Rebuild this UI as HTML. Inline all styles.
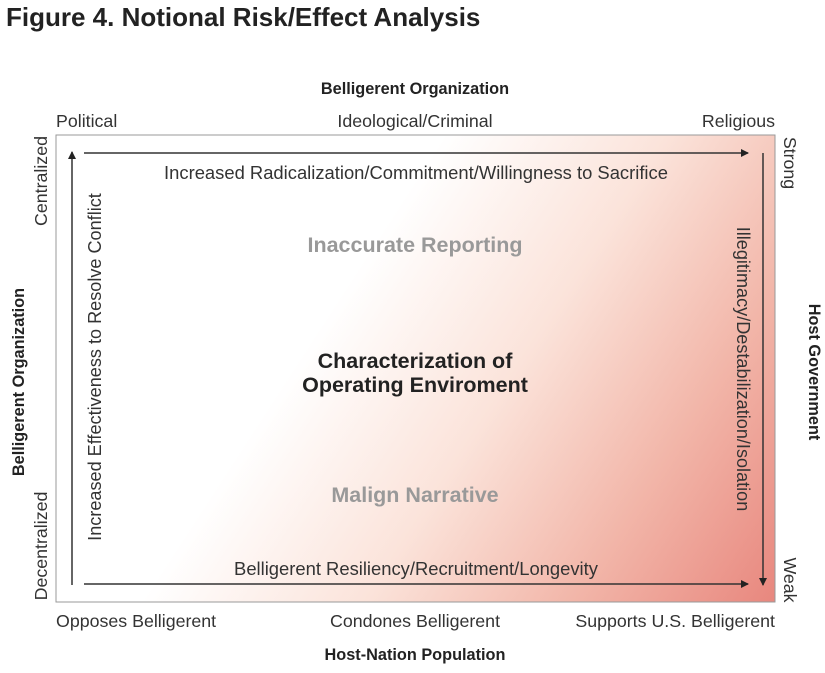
<!DOCTYPE html>
<html><head><style>
body{margin:0;background:#fff;}
svg text{font-family:"Liberation Sans",sans-serif;}
</style></head><body>
<svg width="825" height="668" xmlns="http://www.w3.org/2000/svg">
<defs>
<linearGradient id="g" x1="56" y1="135" x2="775" y2="602" gradientUnits="userSpaceOnUse">
<stop offset="0.38" stop-color="#fff"/>
<stop offset="0.6" stop-color="#fbe3da"/>
<stop offset="0.8" stop-color="#f2b6a9"/>
<stop offset="1" stop-color="#e8877e"/>
</linearGradient>
<marker id="a" markerWidth="8" markerHeight="8" refX="7" refY="4" orient="auto" markerUnits="userSpaceOnUse"><path d="M0,0 L8,4 L0,8z" fill="#222"/></marker>
</defs>
<text x="6" y="26" font-size="26" font-weight="bold" fill="#222">Figure 4. Notional Risk/Effect Analysis</text>
<text x="415" y="94" font-size="16.3" font-weight="bold" text-anchor="middle" fill="#222">Belligerent Organization</text>
<text x="56" y="127" font-size="17.8" fill="#333">Political</text>
<text x="415" y="127" font-size="17.8" fill="#333" text-anchor="middle">Ideological/Criminal</text>
<text x="775" y="127" font-size="17.8" fill="#333" text-anchor="end">Religious</text>
<rect x="56" y="135" width="719" height="467" fill="url(#g)" stroke="#999" stroke-width="1"/>
<line x1="84" y1="153" x2="748" y2="153" stroke="#333" stroke-width="1.5" marker-end="url(#a)"/>
<line x1="84" y1="584" x2="748" y2="584" stroke="#333" stroke-width="1.5" marker-end="url(#a)"/>
<line x1="72" y1="585" x2="72" y2="152" stroke="#333" stroke-width="1.5" marker-end="url(#a)"/>
<line x1="763" y1="153" x2="763" y2="585" stroke="#333" stroke-width="1.5" marker-end="url(#a)"/>
<text x="416" y="179" font-size="18.4" fill="#333" text-anchor="middle">Increased Radicalization/Commitment/Willingness to Sacrifice</text>
<text x="416" y="575" font-size="18.4" fill="#333" text-anchor="middle">Belligerent Resiliency/Recruitment/Longevity</text>
<text transform="translate(101,367) rotate(-90)" font-size="18.1" fill="#333" text-anchor="middle">Increased Effectiveness to Resolve Conflict</text>
<text transform="translate(737,369) rotate(90)" font-size="18.1" fill="#333" text-anchor="middle">Illegitimacy/Destabilization/Isolation</text>
<text x="415" y="252" font-size="21.5" font-weight="bold" fill="#999" text-anchor="middle">Inaccurate Reporting</text>
<text x="415" y="368" font-size="21.5" font-weight="bold" fill="#222" text-anchor="middle">Characterization of</text>
<text x="415" y="392" font-size="21.5" font-weight="bold" fill="#222" text-anchor="middle">Operating Enviroment</text>
<text x="415" y="502" font-size="21.5" font-weight="bold" fill="#999" text-anchor="middle">Malign Narrative</text>
<text transform="translate(47,181) rotate(-90)" font-size="17.8" fill="#333" text-anchor="middle">Centralized</text>
<text transform="translate(47,546) rotate(-90)" font-size="17.8" fill="#333" text-anchor="middle">Decentralized</text>
<text transform="translate(24,382) rotate(-90)" font-size="16.3" font-weight="bold" fill="#222" text-anchor="middle">Belligerent Organization</text>
<text transform="translate(784,163) rotate(90)" font-size="17.8" fill="#333" text-anchor="middle">Strong</text>
<text transform="translate(784,580) rotate(90)" font-size="17.8" fill="#333" text-anchor="middle">Weak</text>
<text transform="translate(809,372) rotate(90)" font-size="16.3" font-weight="bold" fill="#222" text-anchor="middle">Host Government</text>
<text x="56" y="627" font-size="17.8" fill="#333">Opposes Belligerent</text>
<text x="415" y="627" font-size="17.8" fill="#333" text-anchor="middle">Condones Belligerent</text>
<text x="775" y="627" font-size="17.8" fill="#333" text-anchor="end">Supports U.S. Belligerent</text>
<text x="415" y="660" font-size="16.3" font-weight="bold" fill="#222" text-anchor="middle">Host-Nation Population</text>
</svg>
</body></html>
